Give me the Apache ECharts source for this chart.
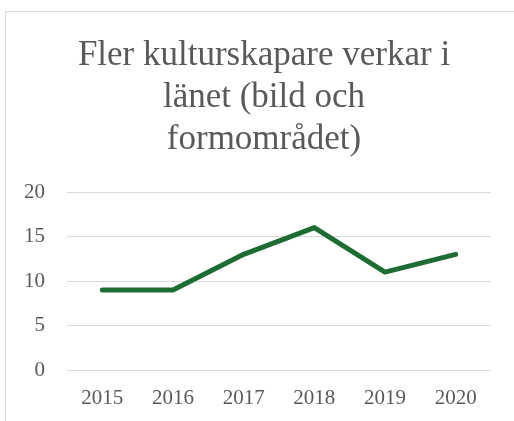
<!DOCTYPE html>
<html><head><meta charset="utf-8">
<script src="https://cdn.jsdelivr.net/npm/echarts@6/dist/echarts.min.js"></script>
<style>html,body{margin:0;padding:0;background:#fff}#c{width:514px;height:421px}</style>
</head><body><div id="c"></div>
<script>
const titleText = "Fler kulturskapare verkar i\nlänet (bild och\nformområdet)";
const categories = ["2015","2016","2017","2018","2019","2020"];
const values = [9, 9, 13, 16, 11, 13];
const yTicks = {min: 0, max: 20, interval: 5};

const chart = echarts.init(document.getElementById('c'), null, {renderer: 'canvas'});
const font = "'Liberation Serif', 'DejaVu Serif', serif";
chart.setOption({
  animation: false,
  backgroundColor: '#fff',
  graphic: [
    {type: 'rect', shape: {x: 5.5, y: 11.5, width: 520, height: 420}, style: {fill: 'none', stroke: '#d9d9d9', lineWidth: 1}, z: 0},
    {type: 'text', x: 264, y: 35, style: {text: titleText, fill: '#595959', font: "35px " + font, textAlign: 'center', lineHeight: 42}}
  ],
  grid: {left: 67, right: 23, top: 192, bottom: 51, containLabel: false},
  xAxis: {
    type: 'category', data: categories, boundaryGap: true,
    axisLine: {show: false}, axisTick: {show: false},
    axisLabel: {color: '#595959', fontFamily: font, fontSize: 21, margin: 18}
  },
  yAxis: {
    type: 'value', min: yTicks.min, max: yTicks.max, interval: yTicks.interval,
    axisLine: {show: false}, axisTick: {show: false},
    splitLine: {lineStyle: {color: '#d9d9d9', width: 1}},
    axisLabel: {color: '#595959', fontFamily: font, fontSize: 21, margin: 22}
  },
  series: [{
    type: 'line', data: values, showSymbol: false, symbol: 'none',
    lineStyle: {color: '#1e6b34', width: 5, cap: 'round', join: 'round'}
  }]
});
</script></body></html>
